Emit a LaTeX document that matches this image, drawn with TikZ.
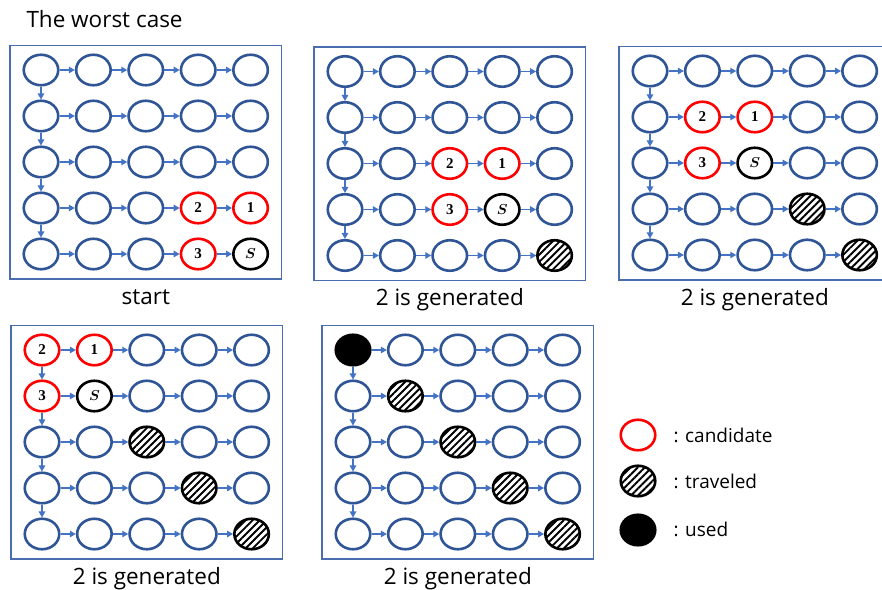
\documentclass[tikz,border=0pt]{standalone}
\usepackage[no-math]{fontspec}
\setmainfont{Open Sans}
\newfontfamily\digfont{Liberation Serif}
\usetikzlibrary{shapes.geometric,arrows.meta,patterns.meta}
\definecolor{cellblue}{HTML}{2F5597}
\definecolor{arrblue}{HTML}{4472C4}
\definecolor{boxblue}{HTML}{4A6DB0}
\newcommand\setcell[2]{\expandafter\def\csname stX#1\endcsname{#2}}
\newcommand\dg[1]{{\digfont\bfseries #1}}
\newcommand\gridpanel[4]{%
  \foreach \r in {1,...,5}{
    \foreach \c in {1,...,5}{
      \node[cell, cellstate={#1-\r-\c}] (#1-\r-\c) at ({#2+(\c-1)*52.4},{#3+(\r-1)*46}) {};
    }
  }
  \foreach \r in {1,...,5}{
    \foreach \c [count=\n from 2] in {1,...,4}{
      \draw[arr] (#1-\r-\c) -- (#1-\r-\n);
    }
  }
  \foreach \r [count=\n from 2] in {1,...,4}{
    \draw[arr] (#1-\r-1) -- (#1-\n-1);
  }
  \draw[boxline] ({#2-31},{#3-24.5}) rectangle ({#2+240.6},{#3+209});
  \node[caption] (#1-cap) at ({#2+104.8},{#3+234}) {#4};
}
\tikzset{
  cell/.style={ellipse, draw=cellblue, line width=2.6pt, minimum width=34.5pt,
    minimum height=30.5pt, inner sep=0pt, fill=white,
    font=\fontsize{15}{15}\selectfont\boldmath},
  cand/.style={draw=red},
  srcc/.style={draw=black},
  trav/.style={draw=black, pattern={Lines[angle=45,distance=5pt,line width=1.9pt]}},
  usedc/.style={draw=black, fill=black},
  txt/.style={execute at begin node={#1}},
  cellstate/.code={\ifcsname stX#1\endcsname
      \expandafter\let\expandafter\tmpst\csname stX#1\endcsname
      \expandafter\pgfkeysalso\expandafter{\tmpst}\fi},
  arr/.style={-{Triangle[length=6pt,width=6.5pt]}, draw=arrblue, line width=1.3pt},
  boxline/.style={draw=boxblue, line width=1.2pt},
  caption/.style={anchor=base, font=\fontsize{22.5}{22.5}\selectfont},
  legtext/.style={anchor=base west, font=\fontsize{19}{19}\selectfont},
}
% panel 1
\setcell{pa-4-4}{cand, txt={\dg{2}}}
\setcell{pa-4-5}{cand, txt={\dg{1}}}
\setcell{pa-5-4}{cand, txt={\dg{3}}}
\setcell{pa-5-5}{srcc, txt={$S$}}
% panel 2
\setcell{pb-3-3}{cand, txt={\dg{2}}}
\setcell{pb-3-4}{cand, txt={\dg{1}}}
\setcell{pb-4-3}{cand, txt={\dg{3}}}
\setcell{pb-4-4}{srcc, txt={$S$}}
\setcell{pb-5-5}{trav}
% panel 3
\setcell{pc-2-2}{cand, txt={\dg{2}}}
\setcell{pc-2-3}{cand, txt={\dg{1}}}
\setcell{pc-3-2}{cand, txt={\dg{3}}}
\setcell{pc-3-3}{srcc, txt={$S$}}
\setcell{pc-4-4}{trav}
\setcell{pc-5-5}{trav}
% panel 4
\setcell{pd-1-1}{cand, txt={\dg{2}}}
\setcell{pd-1-2}{cand, txt={\dg{1}}}
\setcell{pd-2-1}{cand, txt={\dg{3}}}
\setcell{pd-2-2}{srcc, txt={$S$}}
\setcell{pd-3-3}{trav}
\setcell{pd-4-4}{trav}
\setcell{pd-5-5}{trav}
% panel 5
\setcell{pe-1-1}{usedc}
\setcell{pe-2-2}{trav}
\setcell{pe-3-3}{trav}
\setcell{pe-4-4}{trav}
\setcell{pe-5-5}{trav}
\begin{document}
\begin{tikzpicture}[x=1pt,y=-1pt]
  \clip (0,0) rectangle (882,589);
  \useasboundingbox (0,0) rectangle (882,589);
  \node[anchor=base west, font=\fontsize{22.5}{22.5}\selectfont] (title) at (23,27) {The worst case};
  \gridpanel{pa}{41}{70}{start}
  \gridpanel{pb}{345}{71.5}{2 is generated}
  \gridpanel{pc}{650}{71}{2 is generated}
  \gridpanel{pd}{42}{350}{2 is generated}
  \gridpanel{pe}{353}{350}{2 is generated}
  % legend
  \node[cell, cand] (lg1) at (638,435) {};
  \node[cell, trav] (lg2) at (638,481) {};
  \node[cell, usedc] (lg3) at (638,530) {};
  \node[legtext] (lt1) at (670,442) {: candidate};
  \node[legtext] (lt2) at (670,488) {: traveled};
  \node[legtext] (lt3) at (670,536) {: used};
\end{tikzpicture}
\end{document}
